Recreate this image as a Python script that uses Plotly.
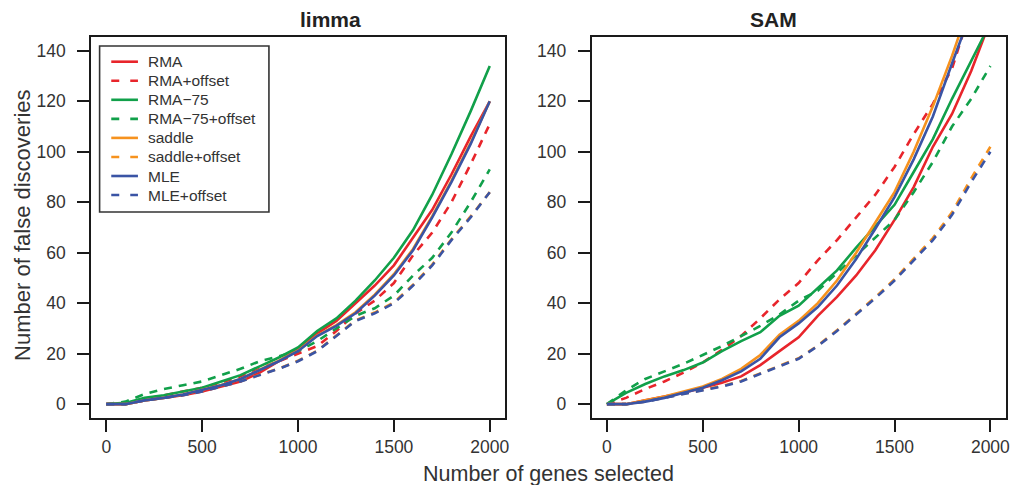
import plotly.graph_objects as go

# ---------------- data ----------------
genes = [0, 100, 200, 300, 400, 500, 600, 700, 800, 900, 1000,
         1100, 1200, 1300, 1400, 1500, 1600, 1700, 1800, 1900, 2000]

series_names = ["RMA", "RMA+offset", "RMA\u221275", "RMA\u221275+offset",
                "saddle", "saddle+offset", "MLE", "MLE+offset"]

# limma panel
limma_rma = [0, 0, 1.5, 2.5, 3.5, 5, 7, 9, 12.5, 17, 22, 28, 33, 40, 47, 55, 66, 77, 91, 106, 120]
limma_rma_off = [0, 0.5, 2, 3.5, 5, 6.5, 8.5, 11, 14, 17, 20, 23, 29, 36, 41, 48, 59, 68, 80, 95, 111]
limma_rma75 = [0, 0.5, 2.5, 3.5, 5, 6.5, 9, 11.5, 15, 18.5, 22.5, 29, 34, 41, 49, 58, 69, 83, 99, 116, 134]
limma_rma75_off = [0, 1, 4, 6, 7.5, 9, 11.5, 14, 17, 19, 21, 25, 30, 35, 38, 43, 51, 58, 68, 80, 93]
limma_saddle = [0, 0, 1.5, 2.5, 3.8, 5.6, 7.6, 10, 13.6, 17.2, 21.2, 27.2, 31.3, 36.4, 43.4, 51.5, 61.5, 74.5, 88.5, 103.5, 120]
limma_saddle_off = [0, 0, 1.5, 2.5, 3.6, 5.1, 7.1, 9.1, 11.6, 14.1, 17.2, 21.2, 27.2, 33.2, 36.3, 40.3, 47.3, 55.3, 65.3, 74.4, 84]
limma_mle = [0, 0, 1.5, 2.5, 3.8, 5.5, 7.5, 10, 13.5, 17, 21, 27, 31, 36, 43, 51, 61, 74, 88, 103, 120]
limma_mle_off = [0, 0, 1.5, 2.5, 3.5, 5, 7, 9, 11.5, 14, 17, 21, 27, 33, 36, 40, 47, 55, 65, 74, 84]

# SAM panel
sam_rma = [0, 0, 1.5, 3, 4.5, 6.5, 8.5, 11, 15.5, 21, 26.5, 35, 42.5, 51, 61, 73, 86, 102, 115, 132, 152]
sam_rma_off = [0, 2.5, 6, 9, 12.5, 16.5, 21.5, 27, 34, 41.5, 48, 57, 65, 74, 83, 94, 107, 119, 133, 157, 180]
sam_rma75 = [0, 4.5, 8, 11, 13.5, 16.5, 21, 25, 28.5, 35, 39, 46, 53, 62, 70.5, 79, 92, 105, 121, 136, 151]
sam_rma75_off = [0, 5.5, 10, 13, 16, 19.5, 23, 27, 31, 35.5, 41, 45, 52, 59, 66, 73, 84, 96, 110, 121, 134]
sam_saddle = [0, 0, 1.5, 3, 5, 7, 10, 14, 19.5, 27.5, 33, 40, 49, 60, 72, 84, 100, 118, 138, 160, 182]
sam_saddle_off = [0, 0, 1, 2.5, 4, 5.5, 7.2, 9.2, 12.2, 15.2, 18.2, 23.2, 29.3, 35.8, 42.4, 49.5, 57.6, 65.8, 76, 89.5, 102]
sam_mle = [0, 0, 1, 2.5, 4.5, 6.5, 9.5, 13, 18, 26.5, 32, 38.5, 47, 57.5, 69.5, 82, 97, 114, 135, 155, 176]
sam_mle_off = [0, 0, 1, 2.5, 4, 5.5, 7, 9, 12, 15, 18, 23, 29, 35.5, 42, 49, 57, 65, 75, 88, 100]

x_ticks = [0, 500, 1000, 1500, 2000]
y_ticks = [0, 20, 40, 60, 80, 100, 120, 140]

# ---------------- styles ----------------
RED = "#E8252B"
GREEN = "#11A04A"
ORANGE = "#F6921E"
BLUE = "#3A54A5"
colors = [RED, RED, GREEN, GREEN, ORANGE, ORANGE, BLUE, BLUE]
dashes = ["solid", "8px,7px"] * 4
legend_dashes = ["solid", "8px,11px"] * 4

limma = [limma_rma, limma_rma_off, limma_rma75, limma_rma75_off,
         limma_saddle, limma_saddle_off, limma_mle, limma_mle_off]
sam = [sam_rma, sam_rma_off, sam_rma75, sam_rma75_off,
       sam_saddle, sam_saddle_off, sam_mle, sam_mle_off]

W, H = 1014, 485
FONT = "Liberation Sans, Arial, Helvetica, sans-serif"
AX = "#1a1a1a"
TXT = "#333333"

fig = go.Figure()
for i, name in enumerate(series_names):
    fig.add_trace(go.Scatter(
        x=genes, y=limma[i], mode="lines", name=name,
        line=dict(color=colors[i], width=2.6, dash=dashes[i]),
        xaxis="x", yaxis="y", showlegend=False))
for i, name in enumerate(series_names):
    fig.add_trace(go.Scatter(
        x=genes, y=sam[i], mode="lines", name=name,
        line=dict(color=colors[i], width=2.6, dash=dashes[i]),
        xaxis="x2", yaxis="y2", showlegend=False))

def px_x(p):
    return p / W

def px_y(p):
    return 1 - p / H

left_dom = [px_x(91.3), px_x(507.1)]
right_dom = [px_x(593.9), px_x(1009.7)]
y_dom = [px_y(418.3), px_y(36.7)]

axis_common = dict(
    showgrid=False, zeroline=False, showline=True, mirror=True,
    linecolor=AX, linewidth=1.6, ticks="outside", ticklen=12,
    tickwidth=1.5, tickcolor=AX,
    tickfont=dict(family=FONT, size=17.5, color=TXT),
)

# manual legend (box, line samples, labels)
shapes = [dict(type="rect", xref="paper", yref="paper",
               x0=px_x(100), x1=px_x(270), y0=px_y(212), y1=px_y(46),
               line=dict(color="#333333", width=1.6), fillcolor="rgba(0,0,0,0)")]
annotations = []
for i, name in enumerate(series_names):
    yc = 61.7 + 19.05 * i
    shapes.append(dict(type="line", xref="paper", yref="paper",
                       x0=px_x(111.7), x1=px_x(138.5), y0=px_y(yc), y1=px_y(yc),
                       line=dict(color=colors[i], width=2.6, dash=legend_dashes[i])))
    annotations.append(dict(text=name, x=px_x(147), y=px_y(yc), xref="paper", yref="paper",
                            xanchor="left", yanchor="middle", showarrow=False,
                            font=dict(family=FONT, size=15.5, color=TXT)))

annotations += [
    dict(text="<b>limma</b>", x=(left_dom[0] + left_dom[1]) / 2, y=px_y(20),
         xref="paper", yref="paper", showarrow=False, yanchor="middle",
         font=dict(family=FONT, size=21, color="#222222")),
    dict(text="<b>SAM</b>", x=(right_dom[0] + right_dom[1]) / 2, y=px_y(20),
         xref="paper", yref="paper", showarrow=False, yanchor="middle",
         font=dict(family=FONT, size=21, color="#222222")),
    dict(text="Number of genes selected", x=(left_dom[0] + right_dom[1]) / 2,
         y=px_y(474), xref="paper", yref="paper", showarrow=False, yanchor="middle",
         font=dict(family=FONT, size=21.5, color=TXT)),
    dict(text="Number of false discoveries", x=px_x(22), y=px_y(225),
         xref="paper", yref="paper", showarrow=False, textangle=-90,
         xanchor="center", yanchor="middle",
         font=dict(family=FONT, size=22, color=TXT)),
]

fig.update_layout(
    width=W, height=H,
    margin=dict(l=0, r=0, t=0, b=0),
    paper_bgcolor="white", plot_bgcolor="white",
    font=dict(family=FONT, color=TXT),
    showlegend=False,
    xaxis=dict(domain=left_dom, range=[-80, 2080], tickvals=x_ticks,
               anchor="y", ticklabelstandoff=0, **axis_common),
    yaxis=dict(domain=y_dom, range=[-5.6, 145.6], tickvals=y_ticks,
               anchor="x", ticklabelstandoff=8, **axis_common),
    xaxis2=dict(domain=right_dom, range=[-80, 2080], tickvals=x_ticks,
                anchor="y2", ticklabelstandoff=0, **axis_common),
    yaxis2=dict(domain=y_dom, range=[-5.6, 145.6], tickvals=y_ticks,
                anchor="x2", ticklabelstandoff=8, **axis_common),
    shapes=shapes,
    annotations=annotations,
)

fig.write_html("out.html")
